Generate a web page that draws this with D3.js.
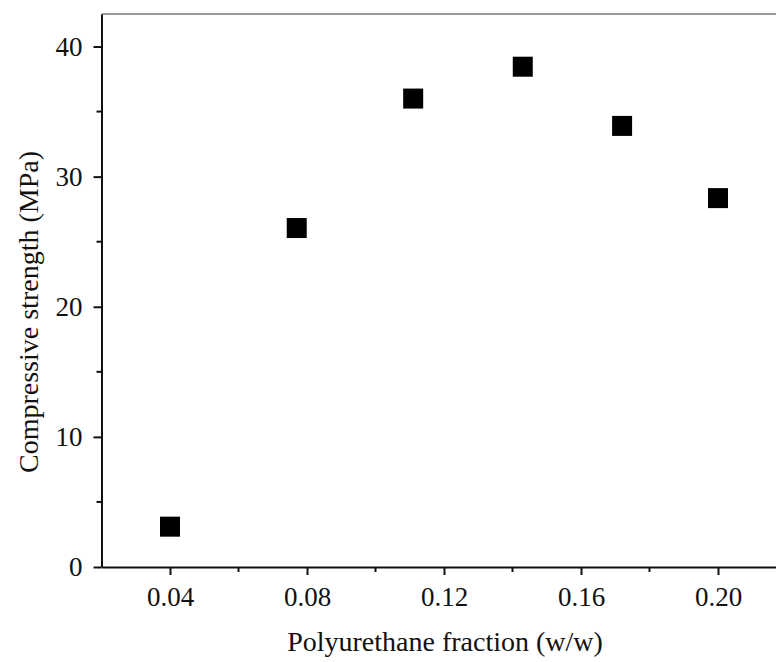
<!DOCTYPE html>
<html>
<head>
<meta charset="utf-8">
<title>Compressive strength</title>
<script src="https://d3js.org/d3.v7.min.js"></script>
<style>
body { margin: 0; background: #fff; }
text { font-family: "Liberation Serif", "Times New Roman", serif; fill: #111; }
.axis path, .axis line { stroke: #111; stroke-width: 2px; }
</style>
</head>
<body>
<script>
// data
var fraction = [0.04, 0.077, 0.111, 0.143, 0.172, 0.20];
var strength = [3.1, 26.05, 36.0, 38.45, 33.9, 28.35];
var xTicks = [0.04, 0.08, 0.12, 0.16, 0.20];
var yTicks = [0, 10, 20, 30, 40];

var width = 776, height = 662;
var padLeft = 101.5, padTop = 14, axisY = 567;

var svg = d3.select("body").append("svg")
    .attr("width", width)
    .attr("height", height);

var x = d3.scaleLinear().domain([0.02, 0.22]).range([padLeft, 786.5]);
var y = d3.scaleLinear().domain([0, 42.5]).range([axisY, padTop]);

// top border (grey)
svg.append("line")
    .attr("x1", padLeft).attr("x2", width)
    .attr("y1", padTop).attr("y2", padTop)
    .style("stroke", "#9a9a9a").style("stroke-width", 2);

// minor ticks
var xMinor = [0.06, 0.10, 0.14, 0.18];
var yMinor = [5, 15, 25, 35];
svg.selectAll("line.xminor").data(xMinor).enter().append("line")
    .attr("class", "xminor")
    .attr("x1", d => x(d)).attr("x2", d => x(d))
    .attr("y1", axisY).attr("y2", axisY + 5)
    .style("stroke", "#111").style("stroke-width", 2);
svg.selectAll("line.yminor").data(yMinor).enter().append("line")
    .attr("class", "yminor")
    .attr("x1", padLeft).attr("x2", padLeft - 5)
    .attr("y1", d => y(d)).attr("y2", d => y(d))
    .style("stroke", "#111").style("stroke-width", 2);

var xAxis = svg.append("g").attr("class", "axis")
    .attr("transform", "translate(0," + axisY + ")")
    .call(d3.axisBottom(x).tickValues(xTicks).tickFormat(d3.format(".2f"))
      .tickSizeInner(8).tickSizeOuter(0).tickPadding(12));
xAxis.selectAll("text").style("font-size", "27px");

var yAxis = svg.append("g").attr("class", "axis")
    .attr("transform", "translate(" + padLeft + ",0)")
    .call(d3.axisLeft(y).tickValues(yTicks).tickFormat(d3.format("d"))
      .tickSizeInner(8).tickSizeOuter(0).tickPadding(11));
yAxis.selectAll("text").style("font-size", "27px");

// axis titles
svg.append("text")
    .attr("x", 445).attr("y", 651)
    .attr("text-anchor", "middle")
    .style("font-size", "28px")
    .text("Polyurethane fraction (w/w)");

svg.append("text")
    .attr("transform", "translate(38,312) rotate(-90)")
    .attr("text-anchor", "middle")
    .style("font-size", "28px")
    .text("Compressive strength (MPa)");

// markers
var s = 20;
svg.selectAll("rect.pt").data(fraction).enter().append("rect")
    .attr("class", "pt")
    .attr("x", d => x(d) - s / 2)
    .attr("y", (d, i) => y(strength[i]) - s / 2)
    .attr("width", s).attr("height", s)
    .style("fill", "#000");
</script>
</body>
</html>
